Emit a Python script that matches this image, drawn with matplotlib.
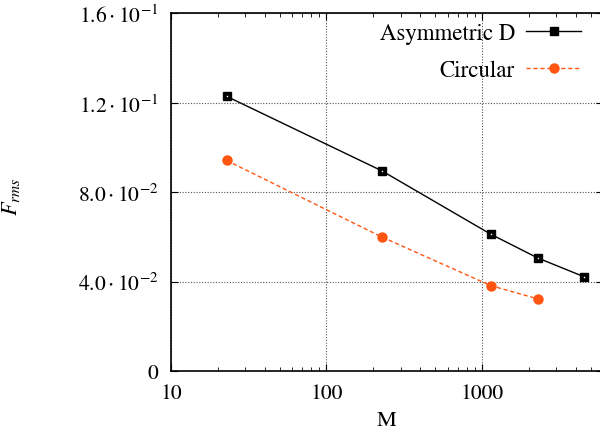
import numpy as np
import matplotlib
matplotlib.use('Agg')
import matplotlib.pyplot as plt
from matplotlib.ticker import FixedLocator, LogLocator, NullFormatter

# values
asym_m = [22.8, 228, 1140, 2280, 4560]
asym_f = [0.1229, 0.0895, 0.0612, 0.0506, 0.0421]
circ_m = [22.8, 228, 1140, 2280]
circ_f = [0.0942, 0.0599, 0.0382, 0.0323]

y_ticks = [0, 0.04, 0.08, 0.12, 0.16]
y_labels = ['0', r'$4.0\cdot10^{-2}$', r'$8.0\cdot10^{-2}$',
            r'$1.2\cdot10^{-1}$', r'$1.6\cdot10^{-1}$']
x_ticks = [10, 100, 1000]
x_labels = ['10', '100', '1000']

plt.rcParams['font.family'] = ['STIXGeneral', 'DejaVu Serif']
plt.rcParams['mathtext.fontset'] = 'stix'

orange = '#ff5511'

fig = plt.figure(figsize=(6, 4.35), dpi=100)
ax = fig.add_axes([0.285, 0.1448, 0.72, 0.822])

ax.plot(asym_m, asym_f, color='black', lw=1.0, marker='s', ms=6,
        mfc='black', mec='black', label='Asymmetric D')
ax.plot(circ_m, circ_f, color=orange, lw=1.0, ls=(0, (3, 2)), marker='o',
        ms=6.5, mfc=orange, mec=orange, label='Circular')
# small white dots inside the square markers
ax.plot(asym_m, asym_f, ls='none', marker='s', ms=1.0, mew=0, color='white')

ax.set_xscale('log')
ax.set_xlim(10, 6000)
ax.set_ylim(0, 0.16)

ax.xaxis.set_major_locator(FixedLocator(x_ticks))
ax.set_xticklabels(x_labels)
ax.xaxis.set_minor_locator(LogLocator(base=10, subs=np.arange(2, 10)))
ax.xaxis.set_minor_formatter(NullFormatter())
ax.set_yticks(y_ticks)
ax.set_yticklabels(y_labels)

ax.tick_params(which='both', direction='in', top=True, right=True,
               labelsize=15.5, pad=9)
ax.tick_params(which='major', length=5)
ax.tick_params(which='minor', length=3)

ax.grid(True, which='major', color='#555555', ls=(0, (1, 1.5)), lw=0.8)
for s in ax.spines.values():
    s.set_linewidth(1.2)

ax.set_xlabel('M', fontsize=16, labelpad=5)
ax.set_ylabel(r'$F_{rms}$', fontsize=16)
ax.yaxis.set_label_coords(-0.345, 0.49)

ax.legend(loc='upper right', frameon=False, markerfirst=False, fontsize=16.5,
          handlelength=2.4, handletextpad=0.5, borderaxespad=0, borderpad=0,
          bbox_to_anchor=(0.95, 0.975), labelspacing=0.68)

fig.savefig('out.png', dpi=100)
